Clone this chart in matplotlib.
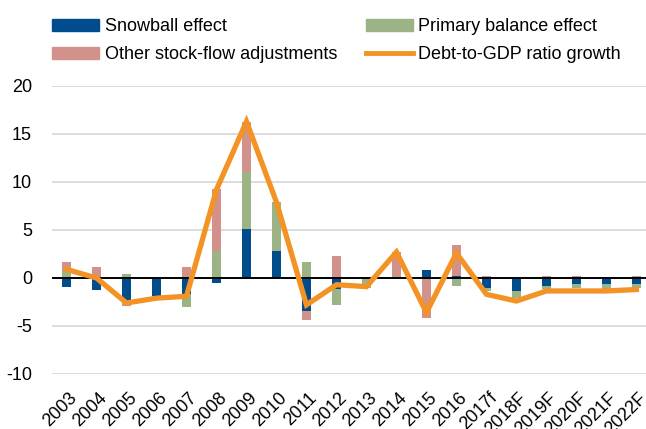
import matplotlib
matplotlib.use("Agg")
import matplotlib.pyplot as plt
import matplotlib.transforms as mtransforms
import numpy as np
from matplotlib.patches import Patch
from matplotlib.lines import Line2D

plt.rcParams['font.family'] = ['Liberation Sans', 'DejaVu Sans']
plt.rcParams['axes.unicode_minus'] = False

years = ["2003", "2004", "2005", "2006", "2007", "2008", "2009", "2010", "2011",
         "2012", "2013", "2014", "2015", "2016", "2017f", "2018F", "2019F",
         "2020F", "2021F", "2022F"]
snowball = [-0.9, -1.2, -2.4, -1.9, -1.7, -0.5, 5.1, 2.8, -3.4, -1.1,
            -0.1, 0.0, 0.8, 0.2, -1.0, -1.4, -0.8, -0.6, -0.6, -0.6]
primary = [0.8, 0.0, 0.4, 0.0, -1.3, 2.8, 5.9, 5.1, 1.7, -1.7,
           -0.9, 0.2, 0.0, -0.8, -0.4, -0.7, -0.3, -0.4, -0.45, -0.45]
other = [0.9, 1.1, -0.5, 0.0, 1.1, 6.5, 5.3, 0.0, -1.0, 2.3,
         0.0, 2.5, -4.2, 3.2, 0.2, 0.0, 0.2, 0.2, -0.3, 0.2]
debt_growth = [0.9, 0.0, -2.6, -2.1, -1.9, 9.2, 16.3, 7.9, -2.8, -0.7,
               -0.9, 2.7, -3.6, 2.6, -1.7, -2.4, -1.35, -1.35, -1.35, -1.2]

c_snow = '#004C8C'
c_prim = '#9CB385'
c_other = '#D3918B'
c_line = '#F39325'

W, H = 646, 429
fig = plt.figure(figsize=(W / 100, H / 100), dpi=100)
ax = fig.add_axes([51.5 / W, 1 - 374 / H, (W - 51.5) / W, (374 - 86) / H])

x = np.arange(len(years))
pos_base = np.zeros(len(years))
neg_base = np.zeros(len(years))
for vals, col in [(snowball, c_snow), (primary, c_prim), (other, c_other)]:
    v = np.array(vals)
    bottoms = np.where(v >= 0, pos_base, neg_base)
    ax.bar(x, v, 0.31, bottom=bottoms, color=col, zorder=2)
    pos_base += np.where(v >= 0, v, 0)
    neg_base += np.where(v < 0, v, 0)

ax.axhline(0, color='black', lw=1.4, zorder=3)
ax.plot(x, debt_growth, color=c_line, lw=3.8, zorder=4, solid_joinstyle='miter')

ax.set_ylim(-10, 20)
ax.set_xlim(-0.5, 19.32)
ax.set_yticks(range(-10, 21, 5))
ax.yaxis.grid(True, color='#D9D9D9', lw=1.3, zorder=0)
ax.set_axisbelow(True)
for s in ax.spines.values():
    s.set_visible(False)
ax.tick_params(axis='both', length=0, labelsize=13, colors='black')
ax.tick_params(axis='y', pad=14)
ax.set_xticks(x)
ax.set_xticklabels(years, rotation=45, ha='right', va='center',
                   rotation_mode='anchor')
ax.tick_params(axis='x', pad=14)
shift = mtransforms.ScaledTranslation(8 / 100, -2 / 100, fig.dpi_scale_trans)
for lbl in ax.get_xticklabels():
    lbl.set_transform(lbl.get_transform() + shift)

handles = [Patch(color=c_snow), Patch(color=c_other),
           Patch(color=c_prim), Line2D([0], [0], color=c_line, lw=3.5)]
labels = ["Snowball effect", "Other stock-flow adjustments",
          "Primary balance effect", "Debt-to-GDP ratio growth"]
fig.legend(handles, labels, ncol=2, loc='upper left',
           bbox_to_anchor=(45 / W, 1 - 11 / H), frameon=False, fontsize=13,
           handlelength=2.6, handleheight=0.6, handletextpad=0.3,
           columnspacing=1.6, labelspacing=0.62, borderaxespad=0)

fig.savefig('out.png', dpi=100)
